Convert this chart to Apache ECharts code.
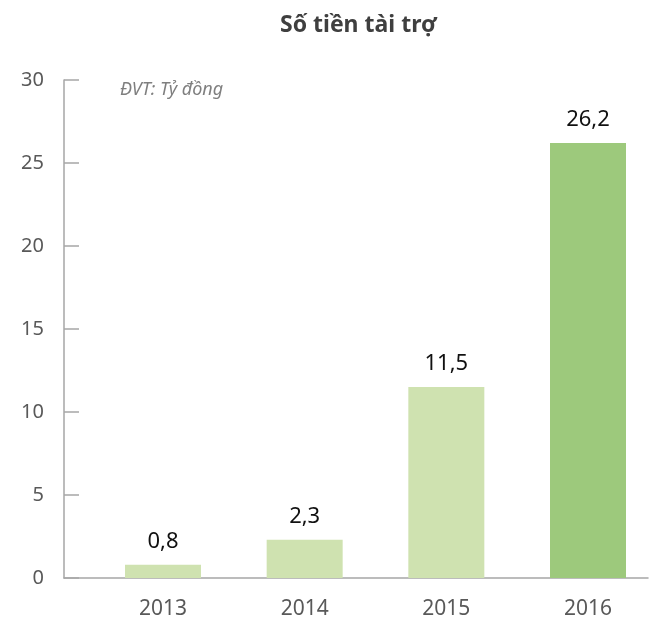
<!DOCTYPE html>
<html>
<head>
<meta charset="utf-8">
<script src="https://cdn.jsdelivr.net/npm/echarts@6/dist/echarts.min.js"></script>
<style>
  html, body { margin: 0; padding: 0; background: #ffffff; }
  #chart { width: 649px; height: 620px; }
</style>
</head>
<body>
<div id="chart"></div>
<script>
// Sponsorship amount by year (billion VND)
const years = ['2013', '2014', '2015', '2016'];
const amounts = [0.8, 2.3, 11.5, 26.2];
const barColors = ['#cfe2b0', '#cfe2b0', '#cfe2b0', '#9dc97c'];
const yTicks = [0, 5, 10, 15, 20, 25, 30];

const FONT = '"Noto Sans", sans-serif';
const chart = echarts.init(document.getElementById('chart'));

chart.setOption({
  backgroundColor: '#ffffff',
  animation: false,
  title: [
    {
      text: 'Số tiền tài trợ',
      left: 275,
      top: 9,
      textStyle: { fontFamily: FONT, fontSize: 23, fontWeight: 'bold', color: '#3f3f3f' }
    },
    {
      text: 'ĐVT: Tỷ đồng',
      left: 115,
      top: 76,
      textStyle: { fontFamily: FONT, fontSize: 18, fontStyle: 'italic', fontWeight: 'normal', color: '#7f7f7f' }
    }
  ],
  grid: [
    // bar centres run from the first to the last category point
    { left: 163, width: 425, top: 80, height: 498, containLabel: false },
    // frame carrying the visible axes
    { left: 64, right: 1, top: 80, height: 498, containLabel: false }
  ],
  xAxis: [
    {
      gridIndex: 0,
      type: 'category',
      data: years,
      boundaryGap: false,
      axisLine: { show: false },
      axisTick: { show: false },
      axisLabel: { fontFamily: FONT, fontSize: 21, color: '#595959', margin: 21 }
    },
    {
      gridIndex: 1,
      type: 'value',
      min: 0,
      max: 1,
      axisLine: { show: true, lineStyle: { color: '#a6a6a6', width: 1.5 } },
      axisTick: { show: false },
      axisLabel: { show: false },
      splitLine: { show: false }
    }
  ],
  yAxis: [
    {
      gridIndex: 0,
      type: 'value',
      min: yTicks[0],
      max: yTicks[yTicks.length - 1],
      interval: 5,
      show: false,
      splitLine: { show: false }
    },
    {
      gridIndex: 1,
      type: 'value',
      min: yTicks[0],
      max: yTicks[yTicks.length - 1],
      interval: 5,
      axisLine: { show: true, lineStyle: { color: '#a6a6a6', width: 1.5 } },
      axisTick: { show: true, inside: true, length: 15, lineStyle: { color: '#a6a6a6', width: 1.5 } },
      axisLabel: { fontFamily: FONT, fontSize: 20, color: '#595959', margin: 20 },
      splitLine: { show: false }
    }
  ],
  series: [
    {
      type: 'bar',
      xAxisIndex: 0,
      yAxisIndex: 0,
      barWidth: 76,
      data: amounts.map((v, i) => ({ value: v, itemStyle: { color: barColors[i] } })),
      label: {
        show: true,
        position: 'top',
        distance: 12,
        fontFamily: FONT,
        fontSize: 22,
        color: '#111111',
        formatter: p => String(p.value).replace('.', ',')
      }
    }
  ]
});
</script>
</body>
</html>
